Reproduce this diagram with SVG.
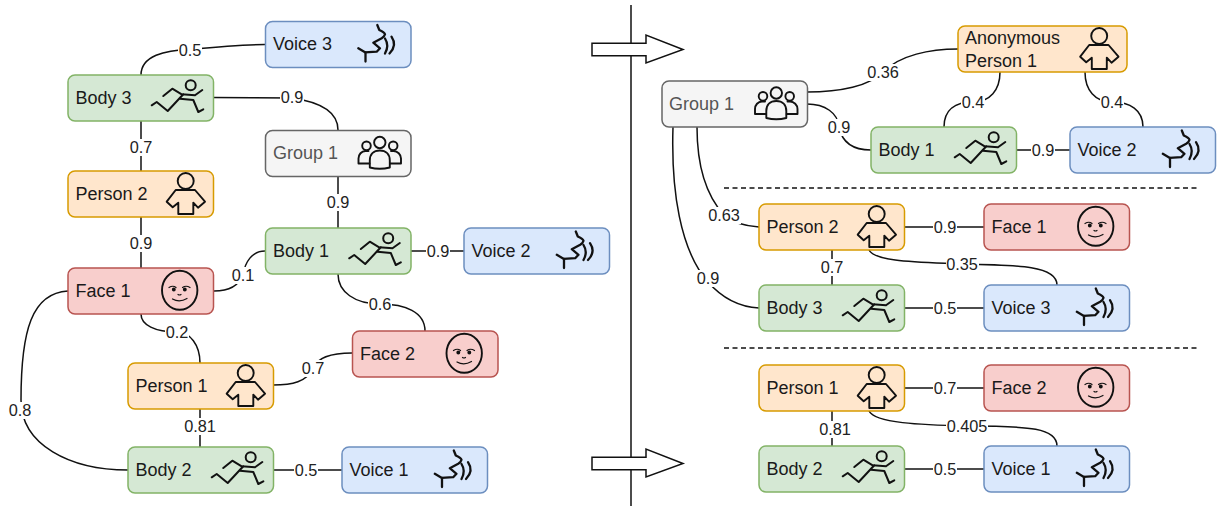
<svg xmlns="http://www.w3.org/2000/svg" width="1219" height="506" viewBox="0 0 1219 506">
<style>
text{font-family:"Liberation Sans",Arial,sans-serif}
.n{stroke-width:1.5}
.t{font-size:18px;fill:#1a1a1a}
.voice rect{fill:#dae8fc;stroke:#6c8ebf}
.body rect{fill:#d5e8d4;stroke:#82b366}
.person rect{fill:#ffe6cc;stroke:#d79b00}
.face rect{fill:#f8cecc;stroke:#b85450}
.group rect{fill:#f5f5f5;stroke:#666}
.group text{fill:#555}
.i{fill:none;stroke:#111;stroke-width:1.9;stroke-linecap:round;stroke-linejoin:round}
#edges path{fill:none;stroke:#111;stroke-width:1.5}
#labels text{font-size:16.3px;fill:#222;text-anchor:middle}
#labels rect{fill:#fff;height:17px}
.sep{stroke:#111;stroke-width:1.3;stroke-dasharray:5 3.5;fill:none}
.arrow{fill:#fff;stroke:#111;stroke-width:1.5}
</style>
<defs>
<g id="iv" class="i" style="stroke-width:2.300"><path d="M111.800,3.500L113.800,8.500Q119,11 119.500,12.800Q119,15 116.200,16.800L107.800,21.200L114.500,26.800L111.200,30.200L99.500,30.800L92.800,26.800"/><path d="M100,31V40"/><path d="M119.500,17Q124,24 119.500,32"/><path d="M126,15.200Q132,24 124,32"/></g>
<g id="ib" class="i" style="stroke-width:2"><circle cx="122.700" cy="10.300" r="5"/><path d="M95.300,21L104.300,13.700L113.700,19.300L127,20.300L134.300,15"/><path d="M112,23.700L125.300,25L130.300,37L135.300,34.300"/><path d="M83.700,30.300L88.700,27L99.700,36L115.300,19.300"/></g>
<g id="ip" class="i"><circle cx="117.700" cy="10" r="8"/><path d="M107.700,19H127L137,30.700L130,36.700L125.300,31.700V43H110.300V31.700L104.700,36.300L98.700,30.700Z"/></g>
<g id="if" class="i"><ellipse cx="111.700" cy="22.300" rx="17.700" ry="19.500"/><path d="M101,19.500Q105,17 108,19.500M114.500,19.500Q118,17 122,19.500M104.500,31Q111.500,35 119,30.500M110,26.500Q111.500,27.500 113,26.500" stroke-width="1.200"/><circle cx="105.800" cy="21.500" r="1" fill="#111"/><circle cx="116.800" cy="21.500" r="1" fill="#111"/></g>
<g id="ig" class="i"><circle cx="114.300" cy="12" r="5.700"/><circle cx="101" cy="15.300" r="4.300"/><circle cx="127.700" cy="15.300" r="4.300"/><path d="M104.300,37V30C104.300,24 108,20 114.300,20C120.500,20 124.300,24 124.300,30V37Q114.300,39.500 104.300,37Z"/><path d="M104,33H93V28C93,24 96,20.500 100,20.500H103M124.700,33H135.500V28C135.500,24 132,20.500 128,20.500H125.500"/></g>
</defs>
<path d="M631,5V506" stroke="#111" stroke-width="1.500" fill="none"/>
<path class="arrow" d="M592,43.300H646V35L683,49.500L646,63V55.700H592Z"/>
<path class="arrow" d="M592,457.300H646V449L683,463.500L646,477V469.700H592Z"/>
<path class="sep" d="M724,188H1197M724,348H1197"/>
<g id="edges">
<path d="M141,75C141,56 165,50 190,49.500C215,47 240,44.500 265,44.500"/>
<path d="M213,97.500C240,97.500 265,98 292,98C320,102 338,112 338,130"/>
<path d="M141,121V171"/>
<path d="M141,217V268"/>
<path d="M338,176V228"/>
<path d="M214,291C225,291 238,288 243,275C245,262 252,251 265,251"/>
<path d="M411,251H464"/>
<path d="M338,274C338,292 355,304 380,304C405,304 425,312 425,331"/>
<path d="M141,314C141,325 155,332 177,332C190,332 200,345 200,363"/>
<path d="M273,385C292,385 307,382 313,368C318,356 335,353 352,353"/>
<path d="M200,409V447"/>
<path d="M68,291C32,293 21,330 21,400C21,445 70,470 128,470"/>
<path d="M273,470H342"/>
<path d="M807,92C840,92 870,86 883,72C900,55 930,49 958,49"/>
<path d="M807,104C825,104 838,113 839,127C842,142 852,150 871,150"/>
<path d="M944,127C944,110 955,102 973,102C990,102 1000,90 1000,72"/>
<path d="M1085,72C1085,90 1095,102 1112,102C1130,102 1143,110 1143,127"/>
<path d="M1017,150H1070"/>
<path d="M697,127C697,160 703,192 724,215C730,222 745,226 759,227"/>
<path d="M673,127C671,190 680,250 708,282C722,298 740,307 759,308"/>
<path d="M905,227H984"/>
<path d="M832,250V285"/>
<path d="M869,250C875,262 920,262 962,264C1020,265 1057,266 1057,285"/>
<path d="M905,308H984"/>
<path d="M905,388H984"/>
<path d="M832,411V446"/>
<path d="M869,411C875,423 920,425 967,426C1030,426 1057,428 1057,446"/>
<path d="M905,469H984"/>
</g>
<g id="labels">
<rect x="178" y="41" width="24"/><text x="190" y="56">0.5</text>
<rect x="280" y="90" width="24"/><text x="292" y="103">0.9</text>
<rect x="129" y="139" width="24"/><text x="141" y="153">0.7</text>
<rect x="129" y="235" width="24"/><text x="141" y="249">0.9</text>
<rect x="326" y="194" width="24"/><text x="338" y="208">0.9</text>
<rect x="231" y="267" width="24"/><text x="243" y="281">0.1</text>
<rect x="426" y="243" width="24"/><text x="438" y="257">0.9</text>
<rect x="368" y="296" width="24"/><text x="380" y="310">0.6</text>
<rect x="165" y="324" width="24"/><text x="177" y="338">0.2</text>
<rect x="301" y="360" width="24"/><text x="313" y="374">0.7</text>
<rect x="184" y="418" width="33"/><text x="200" y="432">0.81</text>
<rect x="8" y="402" width="24"/><text x="20" y="416">0.8</text>
<rect x="294" y="462" width="24"/><text x="306" y="476">0.5</text>
<rect x="867" y="64" width="33"/><text x="883" y="78">0.36</text>
<rect x="827" y="119" width="24"/><text x="839" y="133">0.9</text>
<rect x="961" y="94" width="24"/><text x="973" y="108">0.4</text>
<rect x="1100" y="94" width="24"/><text x="1112" y="108">0.4</text>
<rect x="1031" y="142" width="24"/><text x="1043" y="156">0.9</text>
<rect x="708" y="207" width="33"/><text x="724" y="221">0.63</text>
<rect x="696" y="270" width="24"/><text x="708" y="284">0.9</text>
<rect x="933" y="219" width="24"/><text x="945" y="233">0.9</text>
<rect x="820" y="259" width="24"/><text x="832" y="273">0.7</text>
<rect x="946" y="256" width="33"/><text x="962" y="270">0.35</text>
<rect x="933" y="300" width="24"/><text x="945" y="314">0.5</text>
<rect x="933" y="380" width="24"/><text x="945" y="394">0.7</text>
<rect x="819" y="421" width="33"/><text x="835" y="435">0.81</text>
<rect x="946" y="418" width="42"/><text x="967" y="432">0.405</text>
<rect x="933" y="461" width="24"/><text x="945" y="475">0.5</text>
</g>
<g id="l-voice3" class="voice" transform="translate(265.500 21.500)"><rect class="n" width="145.500" height="46" rx="7"/><text class="t" x="7.500" y="28.500">Voice 3</text><use href="#iv"/></g>
<g id="l-body3" class="body" transform="translate(68 75)"><rect class="n" width="145.500" height="46" rx="7"/><text class="t" x="7.500" y="28.500">Body 3</text><use href="#ib"/></g>
<g id="l-group1" class="group" transform="translate(265.500 130.500)"><rect class="n" width="145.500" height="46" rx="7"/><text class="t" x="7.500" y="28.500">Group 1</text><use href="#ig"/></g>
<g id="l-person2" class="person" transform="translate(68 171)"><rect class="n" width="145.500" height="46" rx="7"/><text class="t" x="7.500" y="28.500">Person 2</text><use href="#ip"/></g>
<g id="l-body1" class="body" transform="translate(265.500 228)"><rect class="n" width="145.500" height="46" rx="7"/><text class="t" x="7.500" y="28.500">Body 1</text><use href="#ib"/></g>
<g id="l-voice2" class="voice" transform="translate(464 228)"><rect class="n" width="145.500" height="46" rx="7"/><text class="t" x="7.500" y="28.500">Voice 2</text><use href="#iv"/></g>
<g id="l-face1" class="face" transform="translate(68 268)"><rect class="n" width="145.500" height="46" rx="7"/><text class="t" x="7.500" y="28.500">Face 1</text><use href="#if"/></g>
<g id="l-face2" class="face" transform="translate(352.500 331)"><rect class="n" width="145.500" height="46" rx="7"/><text class="t" x="7.500" y="28.500">Face 2</text><use href="#if"/></g>
<g id="l-person1" class="person" transform="translate(128 363)"><rect class="n" width="145.500" height="46" rx="7"/><text class="t" x="7.500" y="28.500">Person 1</text><use href="#ip"/></g>
<g id="l-body2" class="body" transform="translate(128 447)"><rect class="n" width="145.500" height="46" rx="7"/><text class="t" x="7.500" y="28.500">Body 2</text><use href="#ib"/></g>
<g id="l-voice1" class="voice" transform="translate(342 447)"><rect class="n" width="145.500" height="46" rx="7"/><text class="t" x="7.500" y="28.500">Voice 1</text><use href="#iv"/></g>
<g id="r-anon" class="person" transform="translate(958 26)"><rect class="n" width="169" height="46" rx="7"/><text class="t" x="7" y="17.500">Anonymous</text><text class="t" x="7" y="40.700">Person 1</text><use href="#ip" x="23.500"/></g>
<g id="r-group1" class="group" transform="translate(662 81)"><rect class="n" width="145.500" height="46" rx="7"/><text class="t" x="7" y="28.500">Group 1</text><use href="#ig"/></g>
<g id="r-body1" class="body" transform="translate(871 127)"><rect class="n" width="145.500" height="46" rx="7"/><text class="t" x="7.500" y="28.500">Body 1</text><use href="#ib"/></g>
<g id="r-voice2" class="voice" transform="translate(1070 127)"><rect class="n" width="145.500" height="46" rx="7"/><text class="t" x="7.500" y="28.500">Voice 2</text><use href="#iv"/></g>
<g id="r-person2" class="person" transform="translate(759 204)"><rect class="n" width="145.500" height="46" rx="7"/><text class="t" x="7.500" y="28.500">Person 2</text><use href="#ip"/></g>
<g id="r-face1" class="face" transform="translate(984 204)"><rect class="n" width="145.500" height="46" rx="7"/><text class="t" x="7.500" y="28.500">Face 1</text><use href="#if"/></g>
<g id="r-body3" class="body" transform="translate(759 285)"><rect class="n" width="145.500" height="46" rx="7"/><text class="t" x="7.500" y="28.500">Body 3</text><use href="#ib"/></g>
<g id="r-voice3" class="voice" transform="translate(984 285)"><rect class="n" width="145.500" height="46" rx="7"/><text class="t" x="7.500" y="28.500">Voice 3</text><use href="#iv"/></g>
<g id="r-person1" class="person" transform="translate(759 365)"><rect class="n" width="145.500" height="46" rx="7"/><text class="t" x="7.500" y="28.500">Person 1</text><use href="#ip"/></g>
<g id="r-face2" class="face" transform="translate(984 365)"><rect class="n" width="145.500" height="46" rx="7"/><text class="t" x="7.500" y="28.500">Face 2</text><use href="#if"/></g>
<g id="r-body2" class="body" transform="translate(759 446)"><rect class="n" width="145.500" height="46" rx="7"/><text class="t" x="7.500" y="28.500">Body 2</text><use href="#ib"/></g>
<g id="r-voice1" class="voice" transform="translate(984 446)"><rect class="n" width="145.500" height="46" rx="7"/><text class="t" x="7.500" y="28.500">Voice 1</text><use href="#iv"/></g>
</svg>
